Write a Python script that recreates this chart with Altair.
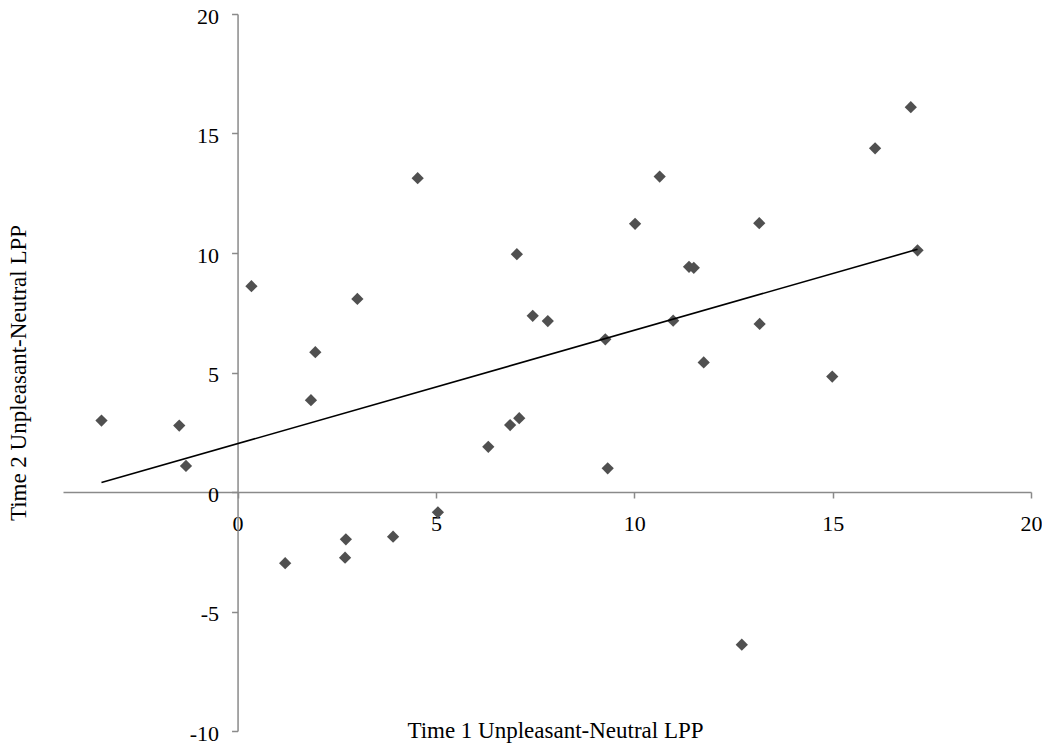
import altair as alt
import pandas as pd

# Data
time1_lpp = [-3.43, -1.47, -1.30, 0.35, 1.20, 1.85, 1.96, 2.73, 2.71, 3.02,
             3.92, 4.54, 5.05, 6.32, 6.87, 7.04, 7.10, 7.44, 7.82, 9.27,
             9.33, 10.02, 10.64, 11.38, 11.50, 10.98, 11.75, 12.71, 13.15, 13.16,
             14.99, 16.07, 16.97, 17.14]
time2_lpp = [2.99, 2.78, 1.09, 8.61, -2.98, 3.84, 5.85, -1.98, -2.75, 8.08,
             -1.87, 13.13, -0.85, 1.89, 2.80, 9.95, 3.09, 7.37, 7.15, 6.39,
             0.99, 11.22, 13.20, 9.42, 9.38, 7.17, 5.42, -6.39, 11.25, 7.03,
             4.83, 14.38, 16.10, 10.11]

x_ticks = [0, 5, 10, 15, 20]
y_ticks = [-10, -5, 0, 5, 10, 15, 20]
x_domain = [-4.4, 20]
y_domain = [-10, 20]

x_title = "Time 1 Unpleasant-Neutral LPP"
y_title = "Time 2 Unpleasant-Neutral LPP"

df = pd.DataFrame({"t1": time1_lpp, "t2": time2_lpp})

W, H = 968, 717
FONT = "Liberation Serif"
AXIS_GRAY = "#8a8a8a"

# axes cross at zero: shift them inward from the plot edges
y_axis_shift = W * (0 - x_domain[0]) / (x_domain[1] - x_domain[0])
x_axis_shift = H * (0 - y_domain[0]) / (y_domain[1] - y_domain[0])

x_axis = alt.Axis(
    values=x_ticks, offset=-x_axis_shift, grid=False,
    domainColor=AXIS_GRAY, domainWidth=1.5,
    tickColor=AXIS_GRAY, tickWidth=1.5, tickSize=6,
    labelFont=FONT, labelFontSize=22, labelColor="black", labelPadding=15,
    labelFlush=False, labelOverlap=False, labelExpr="'' + datum.value",
    title=x_title, titleFont=FONT, titleFontSize=23, titleFontWeight="normal",
    titleColor="black", titleX=492, titleY=245, titleBaseline="alphabetic",
    titleAlign="center",
)
y_axis = alt.Axis(
    values=y_ticks, offset=-y_axis_shift, grid=False,
    domainColor=AXIS_GRAY, domainWidth=1.5,
    tickColor=AXIS_GRAY, tickWidth=1.5, tickSize=6,
    labelFont=FONT, labelFontSize=22, labelColor="black", labelPadding=13,
    labelFlush=False, labelOverlap=False, labelOffset=2,
    labelExpr="'' + datum.value",
    title=y_title, titleFont=FONT, titleFontSize=23, titleFontWeight="normal",
    titleColor="black", titleX=-219, titleY=H / 2, titleBaseline="middle",
    titleAlign="center", titleAngle=270,
)

base = alt.Chart(df).encode(
    x=alt.X("t1:Q", scale=alt.Scale(domain=x_domain, nice=False, zero=False), axis=x_axis),
    y=alt.Y("t2:Q", scale=alt.Scale(domain=y_domain, nice=False, zero=False), axis=y_axis),
)

points = base.mark_point(shape="diamond", filled=True, size=150, color="#505050", opacity=1)
trend = base.transform_regression("t1", "t2").mark_line(color="black", strokeWidth=1.6)

chart = alt.layer(points, trend).properties(
    width=W, height=H,
    background="white",
    autosize=alt.AutoSizeParams(type="none"),
    padding={"left": 55, "top": 6, "right": 11, "bottom": 14},
).configure_view(strokeWidth=0, strokeOpacity=0)

chart.save("out.html", embed_options={"renderer": "svg", "actions": False})
